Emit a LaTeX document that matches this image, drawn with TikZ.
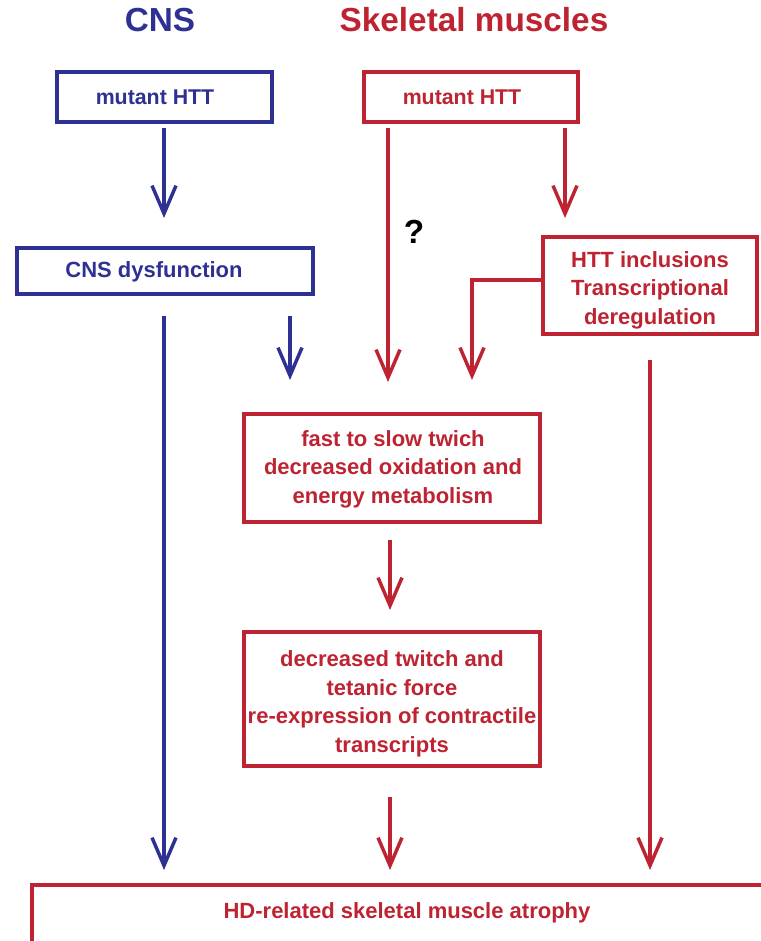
\documentclass[tikz,border=0pt]{standalone}
\usepackage{fontspec}
\setmainfont{Liberation Sans}[BoldFont={* Bold}]
\usetikzlibrary{arrows.meta}
\definecolor{cnsblue}{RGB}{46,49,146}
\definecolor{musred}{RGB}{190,35,50}
\begin{document}
\begin{tikzpicture}[x=0.75pt,y=-0.75pt,
  box/.style={draw,line width=3pt},
  txt/.style={font=\bfseries\fontsize{16.5}{21.4}\selectfont,align=center,inner sep=0pt},
  arr/.style={line width=2.6pt,-{Straight Barb[length=21pt,width=18pt,line width=2.6pt]}},
  ttl/.style={font=\bfseries\fontsize{25}{30}\selectfont,inner sep=0pt}]
\useasboundingbox (0,0) rectangle (760,941);
% titles
\node[ttl,text=cnsblue] (tcns) at (160,20) {CNS};
\node[ttl,text=musred] (tmus) at (474,20) {Skeletal muscles};
% boxes
\draw[box,cnsblue] (57,72) rectangle (272,122);
\node[txt,text=cnsblue,font=\bfseries\fontsize{16}{20}\selectfont] (bmut) at (155,97) {mutant HTT};
\draw[box,musred] (364,72) rectangle (578,122);
\node[txt,text=musred,font=\bfseries\fontsize{16}{20}\selectfont] (rmut) at (462,97) {mutant HTT};
\draw[box,cnsblue] (17,248) rectangle (313,294);
\node[txt,text=cnsblue] (cnsd) at (154,272) {CNS dysfunction};
\draw[box,musred] (543,237) rectangle (757,334);
\node[txt,text=musred] (incl) at (650,290) {HTT inclusions\\Transcriptional\\deregulation};
\draw[box,musred] (244,414) rectangle (540,522);
\node[txt,text=musred] (fast) at (393,469) {fast to slow twich\\decreased oxidation and\\energy metabolism};
\draw[box,musred] (244,632) rectangle (540,766);
\node[txt,text=musred] (decr) at (392,704) {decreased twitch and\\tetanic force\\re-expression of contractile\\transcripts};
\draw[box,musred] (32,885) rectangle (775,945);
\node[txt,text=musred] (atro) at (407,913) {HD-related skeletal muscle atrophy};
% question mark
\node[font=\bfseries\fontsize{25}{30}\selectfont,inner sep=0pt] (q) at (414,232) {?};
% coordinates
\coordinate (a1s) at (164,128); \coordinate (a1e) at (164,218);
\coordinate (a2s) at (388,128); \coordinate (a2e) at (388,382);
\coordinate (a3s) at (565,128); \coordinate (a3e) at (565,218);
\coordinate (a4s) at (164,316); \coordinate (a4e) at (164,870);
\coordinate (a5s) at (290,316); \coordinate (a5e) at (290,380);
\coordinate (a6s) at (543,280); \coordinate (a6m) at (472,280); \coordinate (a6e) at (472,380);
\coordinate (a7s) at (650,360); \coordinate (a7e) at (650,870);
\coordinate (a8s) at (390,540); \coordinate (a8e) at (390,610);
\coordinate (a9s) at (390,797); \coordinate (a9e) at (390,870);
% arrows
\draw[arr,cnsblue] (a1s) -- (a1e);
\draw[arr,musred] (a2s) -- (a2e);
\draw[arr,musred] (a3s) -- (a3e);
\draw[arr,cnsblue] (a4s) -- (a4e);
\draw[arr,cnsblue] (a5s) -- (a5e);
\draw[arr,musred] (a6s) -- (a6m) -- (a6e);
\draw[arr,musred] (a7s) -- (a7e);
\draw[arr,musred] (a8s) -- (a8e);
\draw[arr,musred] (a9s) -- (a9e);
\end{tikzpicture}
\end{document}
